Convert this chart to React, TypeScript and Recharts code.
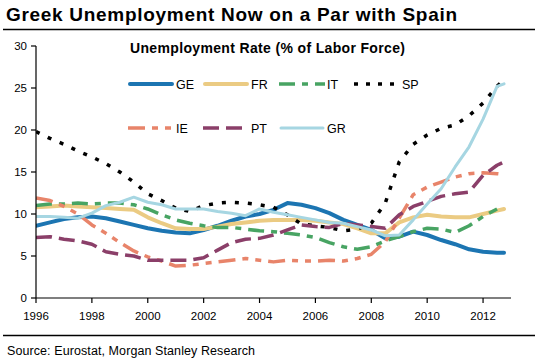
import React from 'react';
import { LineChart, Line, XAxis, YAxis, Legend } from 'recharts';

const YEARS = [1996, 1996.5, 1997, 1997.5, 1998, 1998.5, 1999, 1999.5, 2000, 2000.5, 2001, 2001.5, 2002, 2002.5, 2003, 2003.5, 2004, 2004.5, 2005, 2005.5, 2006, 2006.5, 2007, 2007.5, 2008, 2008.5, 2009, 2009.5, 2010, 2010.5, 2011, 2011.5, 2012, 2012.5, 2012.75];

const GE = [8.6, 9.0, 9.4, 9.6, 9.7, 9.5, 9.1, 8.7, 8.3, 8.0, 7.8, 7.7, 8.1, 8.6, 9.2, 9.7, 10.0, 10.5, 11.3, 11.1, 10.7, 10.1, 9.3, 8.7, 8.1, 7.1, 7.3, 7.9, 7.5, 6.9, 6.4, 5.8, 5.5, 5.4, 5.4];
const FR = [10.8, 10.9, 11.0, 10.9, 10.8, 10.7, 10.6, 10.5, 9.6, 8.9, 8.3, 8.2, 8.2, 8.5, 8.8, 9.0, 9.2, 9.3, 9.3, 9.3, 9.2, 9.0, 8.8, 8.3, 7.7, 7.7, 9.0, 9.6, 9.9, 9.7, 9.6, 9.6, 10.0, 10.4, 10.6];
const IT = [11.0, 11.2, 11.2, 11.3, 11.2, 11.3, 11.3, 11.1, 10.6, 9.9, 9.3, 8.9, 8.6, 8.4, 8.4, 8.2, 8.0, 7.9, 7.7, 7.5, 7.2, 6.6, 6.1, 5.8, 6.1, 6.8, 7.3, 7.9, 8.3, 8.2, 7.8, 8.6, 9.7, 10.6, null];
const SP = [19.8, 19.0, 18.3, 17.5, 16.8, 16.0, 15.0, 13.8, 12.4, 11.6, 10.7, 10.3, 11.0, 11.3, 11.4, 11.3, 11.1, 10.8, 9.9, 8.8, 8.6, 8.4, 8.0, 8.2, 8.9, 11.3, 16.2, 18.3, 19.4, 20.2, 20.6, 21.7, 23.2, 25.2, 26.0];
const IE = [11.9, 11.6, 10.9, 10.0, 8.7, 7.7, 6.6, 5.6, 4.9, 4.4, 3.8, 3.9, 4.1, 4.3, 4.5, 4.7, 4.5, 4.3, 4.5, 4.4, 4.4, 4.5, 4.4, 4.7, 5.2, 6.7, 9.5, 12.3, 13.2, 13.8, 14.4, 14.8, 14.9, 14.8, 14.7];
const PT = [7.2, 7.3, 7.0, 6.8, 6.4, 5.5, 5.2, 5.0, 4.5, 4.5, 4.5, 4.5, 4.8, 5.7, 6.6, 7.0, 7.1, 7.5, 8.1, 8.7, 8.5, 8.4, 8.9, 8.7, 8.5, 8.3, 9.9, 10.9, 11.5, 12.1, 12.4, 12.6, 14.6, 15.8, 16.2];
const GR = [9.7, 9.7, 9.6, 9.5, 10.1, 11.0, 11.4, 12.0, 11.4, 11.1, 10.6, 10.6, 10.6, 10.3, 10.1, 9.8, 10.6, 10.2, 9.9, 9.6, 9.3, 9.0, 8.9, 8.5, 8.1, 7.4, 7.5, 9.3, 11.2, 13.0, 15.6, 18.0, 21.3, 25.2, 25.5];

const X_TICKS = [1996, 1998, 2000, 2002, 2004, 2006, 2008, 2010, 2012];
const Y_TICKS = [0, 5, 10, 15, 20, 25, 30];

const TITLE = 'Greek Unemployment Now on a Par with Spain';
const SUBTITLE = 'Unemployment Rate (% of Labor Force)';
const SOURCE = 'Source: Eurostat, Morgan Stanley Research';

const FONT = '"Liberation Sans", Arial, sans-serif';

type Series = { key: string; values: (number | null)[]; color: string; width: number; dash?: string; cap: 'round' | 'butt' };

const SERIES: Series[] = [
  { key: 'GE', values: GE, color: '#1C75B2', width: 4, cap: 'round' },
  { key: 'FR', values: FR, color: '#EBCB83', width: 4, cap: 'round' },
  { key: 'IT', values: IT, color: '#48A463', width: 3.5, dash: '16 7 6 7', cap: 'butt' },
  { key: 'SP', values: SP, color: '#000000', width: 3.5, dash: '4 9', cap: 'butt' },
  { key: 'IE', values: IE, color: '#E8846A', width: 3.5, dash: '17 7 6 7 6 7', cap: 'butt' },
  { key: 'PT', values: PT, color: '#8B3F69', width: 3.5, dash: '16 7', cap: 'butt' },
  { key: 'GR', values: GR, color: '#A6D6E2', width: 3, cap: 'round' },
];

const data = YEARS.map((year, i) => {
  const row: Record<string, number | null> = { year };
  SERIES.forEach((s) => {
    row[s.key] = s.values[i];
  });
  return row;
});

const LEGEND_COLS = [128, 203, 279, 354];
const LEGEND_ROWS = [84, 128];

const LegendContent = () => (
  <svg width={544} height={150} style={{ position: 'absolute', left: 0, top: 0, overflow: 'visible' }}>
    {SERIES.map((s, i) => {
      const x = LEGEND_COLS[i % 4];
      const y = LEGEND_ROWS[Math.floor(i / 4)];
      const inset = s.cap === 'round' ? 2 : 0;
      return (
        <g key={s.key}>
          <line
            x1={x + inset}
            x2={x + 46 - inset}
            y1={y}
            y2={y}
            stroke={s.color}
            strokeWidth={s.width}
            strokeDasharray={s.key === 'SP' ? '4 8' : s.dash}
            strokeLinecap={s.cap}
          />
          <text x={x + 48} y={y + 4.5} fontSize={12.5} fontFamily={FONT} fill="#000">
            {s.key}
          </text>
        </g>
      );
    })}
  </svg>
);

export default function App() {
  return (
    <div style={{ position: 'absolute', left: 0, top: 0, width: 544, height: 362, background: '#fff', fontFamily: FONT }}>
      <LineChart width={544} height={362} data={data} margin={{ top: 46, right: 33, bottom: 34, left: 0 }}>
        <XAxis
          dataKey="year"
          type="number"
          domain={[1996, 2013]}
          ticks={X_TICKS}
          allowDataOverflow
          height={30}
          tickSize={5}
          tickMargin={9}
          stroke="#000"
          axisLine={{ stroke: '#000', strokeWidth: 1.2 }}
          tickLine={{ stroke: '#000', strokeWidth: 1.2 }}
          tick={{ fontSize: 11.5, fill: '#000', fontFamily: FONT }}
        />
        <YAxis
          type="number"
          domain={[0, 30]}
          ticks={Y_TICKS}
          width={36}
          tickSize={5}
          tickMargin={4}
          stroke="#000"
          axisLine={{ stroke: '#000', strokeWidth: 1.2 }}
          tickLine={{ stroke: '#000', strokeWidth: 1.2 }}
          tick={{ fontSize: 11.5, fill: '#000', fontFamily: FONT }}
        />
        <Legend
          layout="horizontal"
          verticalAlign="middle"
          align="center"
          wrapperStyle={{ left: 0, top: 0, width: 544, height: 0 }}
          content={() => <LegendContent />}
        />
        {SERIES.map((s) => (
          <Line
            key={s.key}
            dataKey={s.key}
            type="linear"
            stroke={s.color}
            strokeWidth={s.width}
            strokeDasharray={s.dash}
            strokeLinecap={s.cap}
            strokeLinejoin="round"
            dot={false}
            activeDot={false}
            isAnimationActive={false}
          />
        ))}
      </LineChart>
      <svg width={544} height={362} style={{ position: 'absolute', left: 0, top: 0, pointerEvents: 'none' }}>
        <text x={6} y={20.5} fontSize={19} fontWeight="bold" fontFamily={FONT} fill="#000" textLength={451} lengthAdjust="spacing">
          {TITLE}
        </text>
        <line x1={3} x2={535} y1={29.5} y2={29.5} stroke="#000" strokeWidth={1.3} />
        <text x={130} y={53} fontSize={14} fontWeight="bold" fontFamily={FONT} fill="#000" textLength={275} lengthAdjust="spacing">
          {SUBTITLE}
        </text>
        <line x1={3} x2={535} y1={335.5} y2={335.5} stroke="#000" strokeWidth={1.3} />
        <text x={7} y={355} fontSize={12.5} fontFamily={FONT} fill="#000" textLength={248} lengthAdjust="spacing">
          {SOURCE}
        </text>
      </svg>
    </div>
  );
}
